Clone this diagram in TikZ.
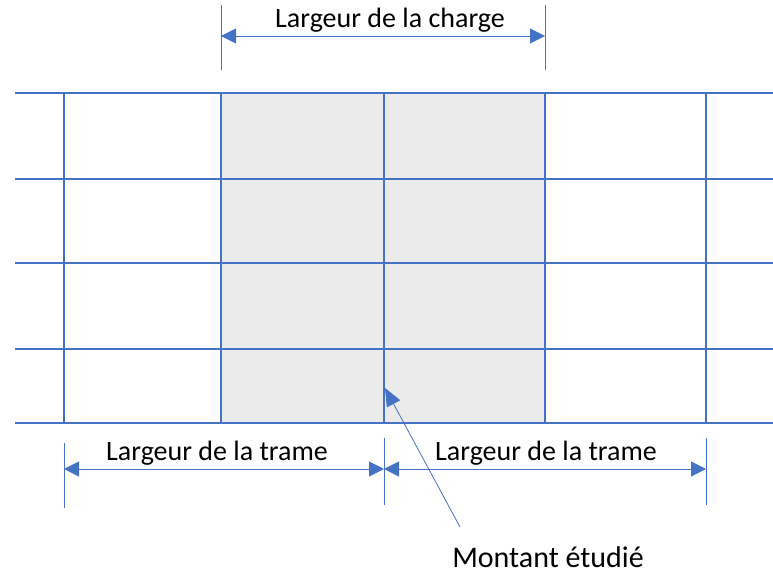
\documentclass[tikz,border=0pt]{standalone}
\usepackage{fontspec}
\setmainfont{Carlito}
\usetikzlibrary{arrows.meta,calc}
\definecolor{gridblue}{HTML}{4472C4}
\definecolor{chargegray}{HTML}{EBEBEB}

\begin{document}
\begin{tikzpicture}[
    x=1pt, y=-1pt,
    gridline/.style={draw=gridblue, line width=1.4pt},
    extline/.style={draw=gridblue, line width=0.6pt},
    dimline/.style={draw=gridblue, line width=1pt, {Triangle[length=15pt,width=15pt]}-{Triangle[length=15pt,width=15pt]}},
    dimlabel/.style={font=\fontsize{28}{32}\selectfont, inner sep=1pt}
]
\useasboundingbox (0,0) rectangle (773,581);
% loaded band
\fill[chargegray] (221,93) rectangle (545,423);
% horizontal lines of the frame
\foreach \y in {93,179,263,349,423}
  \draw[gridline] (15,\y) -- (773,\y);
% vertical members
\foreach \x in {64,221,545,706}
  \draw[gridline] (\x,93) -- (\x,423);
\draw[draw=gridblue, line width=2.4pt] (384,93) coordinate (montop) -- (384,423) coordinate (monbot);
% load width
\draw[extline] (221,5) coordinate (cl) -- (221,70);
\draw[extline] (545,5) coordinate (cr) -- (545,70);
\coordinate (chl) at (221,36);
\coordinate (chr) at (545,36);
\draw[dimline] (chl) -- (chr);
\node[dimlabel] (charge) at (390,20) {Largeur de la charge};
% frame widths
\draw[extline] (64,443) -- (64,508);
\draw[extline] (384,438) -- (384,505);
\draw[extline] (706,438) -- (706,505);
\coordinate (tl) at (64,469);
\coordinate (tm) at (384,469);
\coordinate (tr) at (706,469);
\draw[dimline] (tl) -- (tm);
\draw[dimline] (tm) -- (tr);
\node[dimlabel] (trameg) at (217,453) {Largeur de la trame};
\node[dimlabel] (tramed) at (546,453) {Largeur de la trame};
% studied stud
\coordinate (pointe) at (385,388);
\coordinate (queue) at (460,527);
\draw[draw=gridblue, line width=0.8pt, -{Triangle[length=18pt,width=15pt]}] (queue) -- (pointe);
\node[font=\fontsize{30}{34}\selectfont] (montant) at (548,557) {Montant étudié};
\end{tikzpicture}
\end{document}
